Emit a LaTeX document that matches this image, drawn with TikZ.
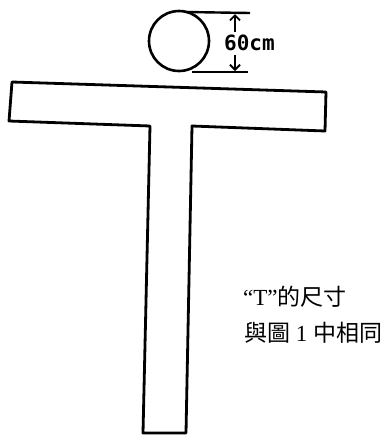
\documentclass[tikz,border=0pt]{standalone}
\usepackage{fontspec}
\setmainfont{Liberation Serif}
\newfontfamily\cjk{Noto Sans CJK TC}
\newfontfamily\handmono{DejaVu Sans Mono}
\usetikzlibrary{arrows.meta}
\begin{document}
\begin{tikzpicture}[x=1pt,y=-1pt,
  outline/.style={line width=2.8pt,line join=round,black},
  dimline/.style={line width=2.4pt,black},
  dimarrow/.style={line width=1.8pt,-{Straight Barb[length=5pt,width=10pt,line width=1.8pt]}},
  label/.style={anchor=west,inner sep=0pt,font=\fontsize{23}{27}\selectfont}]
\useasboundingbox (0,0) rectangle (389,437);
% T shape
\draw[outline] (12,82) -- (326,92) -- (325,131) -- (192,126) -- (186,433)
  -- (143,433) -- (150,126) -- (9,121) -- cycle;
% circle
\node[draw,circle,line width=2.6pt,minimum size=60pt,inner sep=0pt] (head) at (179,41) {};
% dimension
\coordinate (t1) at (186,12);
\coordinate (t2) at (250,13);
\coordinate (b1) at (192,72);
\coordinate (b2) at (248,72);
\draw[dimline] (t1) -- (t2);
\draw[dimline] (b1) -- (b2);
\node[anchor=west,inner sep=0pt,font=\handmono\bfseries\fontsize{21}{24}\selectfont] (dim) at (224,43) {60cm};
\coordinate (u0) at (235,32);
\coordinate (u1) at (235,14);
\coordinate (l0) at (235,55);
\coordinate (l1) at (235,71);
\draw[dimarrow] (u0) -- (u1);
\draw[dimarrow] (l0) -- (l1);
% text
\node[label] (txt1) at (243,297) {“T”{\cjk 的尺寸}};
\node[label] (txt2) at (244,333) {{\cjk 與圖} 1 {\cjk 中相同}};
\end{tikzpicture}
\end{document}
